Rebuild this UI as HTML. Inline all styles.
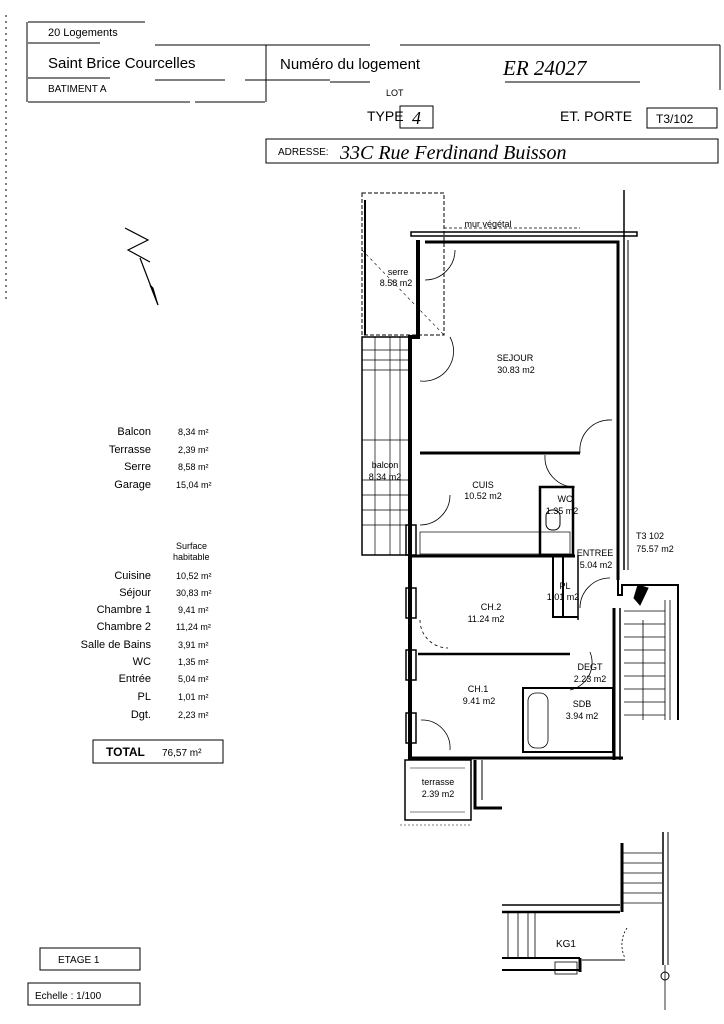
<!DOCTYPE html>
<html><head><meta charset="utf-8"><style>
html,body{margin:0;padding:0;background:#fff;}
svg{display:block;}
text{font-family:"Liberation Sans",sans-serif;fill:#000;}
.h{font-family:"Liberation Serif",serif;font-style:italic;}
</style></head><body>
<svg width="724" height="1024" viewBox="0 0 724 1024" xmlns="http://www.w3.org/2000/svg">
<g stroke="#000" fill="none">
<!-- header lines -->
<line x1="6" y1="15" x2="6" y2="300" stroke-dasharray="2,4" stroke-width="1"/>
<line x1="28" y1="22" x2="145" y2="22" stroke-width="1"/>
<line x1="27" y1="22" x2="27" y2="102" stroke-width="1"/>
<line x1="28" y1="43" x2="100" y2="43" stroke-width="1"/>
<line x1="155" y1="45" x2="370" y2="45" stroke-width="1"/>
<line x1="400" y1="45" x2="720" y2="45" stroke-width="1"/>
<line x1="28" y1="78" x2="110" y2="78" stroke-width="1"/>
<line x1="28" y1="102" x2="190" y2="102" stroke-width="1"/>
<line x1="195" y1="102" x2="265" y2="102" stroke-width="1"/>
<line x1="266" y1="45" x2="266" y2="102" stroke-width="1"/>
<line x1="155" y1="80" x2="225" y2="80" stroke-width="1"/>
<line x1="245" y1="80" x2="330" y2="80" stroke-width="1"/>
<line x1="330" y1="82" x2="370" y2="82" stroke-width="1"/>
<line x1="505" y1="82" x2="640" y2="82" stroke-width="1"/>
<line x1="670" y1="45" x2="720" y2="45" stroke-width="1"/>
<line x1="720" y1="45" x2="720" y2="90" stroke-width="1"/>
<rect x="400" y="106" width="33" height="22" stroke-width="1"/>
<rect x="647" y="108" width="70" height="20" stroke-width="1"/>
<rect x="266" y="139" width="452" height="24" stroke-width="1"/>
<!-- north arrow -->
<path d="M125 228 L148 240 L128 250 L150 262 M140 258 L158 305" stroke-width="1.2"/>
<path d="M150 285 L158 305 L153 288 Z" fill="#000"/>
<!-- table total box -->
<rect x="93" y="740" width="130" height="23" stroke-width="1"/>
<rect x="40" y="948" width="100" height="22" stroke-width="1"/>
<rect x="28" y="983" width="112" height="22" stroke-width="1"/>
<!-- plan: serre -->
<rect x="362" y="193" width="82" height="142" stroke-width="1" stroke-dasharray="4,2"/>
<line x1="365" y1="200" x2="365" y2="335" stroke-width="2"/>
<line x1="362" y1="250" x2="444" y2="335" stroke-width="0.6" stroke-dasharray="3,3"/>
<!-- mur vegetal -->
<rect x="411" y="232" width="226" height="4" stroke-width="1.5"/>
<line x1="444" y1="228" x2="580" y2="228" stroke-width="0.7" stroke-dasharray="3,2"/>
<!-- sejour -->
<path d="M418 240 L418 337 L410 337 L410 760" stroke-width="4"/>
<path d="M425 242 L618 242 L618 580" stroke-width="3"/>
<line x1="624" y1="190" x2="624" y2="570" stroke-width="1.5"/>
<line x1="628" y1="240" x2="628" y2="570" stroke-width="1"/>
<line x1="420" y1="453" x2="580" y2="453" stroke-width="3"/>
<path d="M455 250 A30 30 0 0 1 425 280" stroke-width="0.8"/>
<path d="M450 337 A30 30 0 0 1 420 381" stroke-width="0.8"/>
<path d="M580 453 A30 30 0 0 1 612 420" stroke-width="0.8"/>
<path d="M545 455 A30 30 0 0 0 575 487" stroke-width="0.8"/>
<!-- balcon -->
<rect x="362" y="337" width="48" height="218" stroke-width="1.5"/>
<g stroke-width="0.7">
<line x1="362" y1="350" x2="410" y2="350"/><line x1="362" y1="360" x2="410" y2="360"/>
<line x1="362" y1="370" x2="410" y2="370"/><line x1="362" y1="440" x2="410" y2="440"/>
<line x1="362" y1="480" x2="410" y2="480"/><line x1="362" y1="495" x2="410" y2="495"/>
<line x1="362" y1="510" x2="410" y2="510"/><line x1="362" y1="525" x2="410" y2="525"/>
<line x1="375" y1="337" x2="375" y2="555"/><line x1="390" y1="337" x2="390" y2="555"/>
<line x1="400" y1="337" x2="400" y2="555"/>
</g>
<rect x="406" y="525" width="10" height="30" stroke-width="1.5"/>
<path d="M450 495 A30 30 0 0 1 420 525" stroke-width="0.8"/>
<!-- kitchen -->
<line x1="410" y1="556" x2="575" y2="556" stroke-width="3"/>
<rect x="420" y="532" width="150" height="22" stroke-width="0.7"/>
<rect x="540" y="487" width="33" height="68" stroke-width="2.5"/>
<rect x="546" y="510" width="14" height="20" rx="6" stroke-width="1"/>
<!-- entree / PL -->
<rect x="553" y="555" width="10" height="62" stroke-width="2"/>
<line x1="553" y1="617" x2="578" y2="617" stroke-width="2"/>
<line x1="578" y1="555" x2="578" y2="620" stroke-width="1.5"/>
<path d="M610 578 A30 30 0 0 0 580 608" stroke-width="0.8"/>
<path d="M618 578 L618 595 L622 595 L622 585 L678 585 L678 720" stroke-width="2"/>
<path d="M638 585 L648 588 L640 605 L634 598 Z" fill="#000"/>
<!-- stairs right -->
<g stroke-width="0.8">
<line x1="624" y1="611" x2="665" y2="611"/><line x1="624" y1="624" x2="665" y2="624"/>
<line x1="624" y1="637" x2="665" y2="637"/><line x1="624" y1="650" x2="665" y2="650"/>
<line x1="624" y1="663" x2="665" y2="663"/><line x1="624" y1="676" x2="665" y2="676"/>
<line x1="624" y1="689" x2="665" y2="689"/><line x1="624" y1="702" x2="665" y2="702"/>
<line x1="624" y1="715" x2="665" y2="715"/><line x1="643" y1="620" x2="643" y2="720"/>
<line x1="665" y1="600" x2="665" y2="720"/><line x1="670" y1="600" x2="670" y2="720"/>
</g>
<!-- ch2/ch1 -->
<line x1="614" y1="608" x2="614" y2="760" stroke-width="3"/>
<line x1="620" y1="608" x2="620" y2="760" stroke-width="1.5"/>
<line x1="418" y1="654" x2="570" y2="654" stroke-width="2.5"/>
<rect x="406" y="588" width="10" height="30" stroke-width="1.5"/>
<rect x="406" y="650" width="10" height="30" stroke-width="1.5"/>
<rect x="406" y="713" width="10" height="30" stroke-width="1.5"/>
<path d="M420 620 A28 28 0 0 0 448 648" stroke-width="0.8" stroke-dasharray="3,3"/>
<path d="M590 652 A28 28 0 0 1 570 690" stroke-width="0.8"/>
<path d="M421 720 A28 28 0 0 1 450 750" stroke-width="0.8"/>
<!-- SDB -->
<rect x="523" y="688" width="90" height="64" stroke-width="2"/>
<rect x="528" y="693" width="20" height="55" rx="8" stroke-width="0.8"/>
<!-- bottom walls -->
<path d="M410 758 L623 758" stroke-width="3"/>
<path d="M475 760 L475 808 L502 808" stroke-width="3"/>
<path d="M482 760 L482 800" stroke-width="1"/>
<rect x="405" y="760" width="66" height="60" stroke-width="1.5"/>
<line x1="410" y1="768" x2="465" y2="768" stroke-width="0.6"/>
<line x1="410" y1="812" x2="465" y2="812" stroke-width="0.6"/>
<line x1="400" y1="825" x2="470" y2="825" stroke-width="0.6" stroke-dasharray="2,2"/>
<!-- bottom right -->
<line x1="502" y1="905" x2="620" y2="905" stroke-width="1.5"/>
<line x1="502" y1="912" x2="620" y2="912" stroke-width="2.5"/>
<line x1="622" y1="843" x2="622" y2="912" stroke-width="3"/>
<g stroke-width="0.8">
<line x1="622" y1="853" x2="662" y2="853"/><line x1="622" y1="863" x2="662" y2="863"/>
<line x1="622" y1="873" x2="662" y2="873"/><line x1="622" y1="883" x2="662" y2="883"/>
<line x1="622" y1="893" x2="662" y2="893"/><line x1="622" y1="903" x2="662" y2="903"/>
<line x1="508" y1="912" x2="508" y2="958"/><line x1="518" y1="912" x2="518" y2="958"/>
<line x1="528" y1="912" x2="528" y2="958"/><line x1="535" y1="912" x2="535" y2="958"/>
</g>
<line x1="663" y1="832" x2="663" y2="965" stroke-width="1.5"/>
<line x1="668" y1="832" x2="668" y2="965" stroke-width="1"/>
<line x1="665" y1="965" x2="665" y2="1010" stroke-width="0.8"/>
<circle cx="665" cy="976" r="4" stroke-width="1"/>
<line x1="502" y1="958" x2="580" y2="958" stroke-width="2"/>
<line x1="502" y1="970" x2="580" y2="970" stroke-width="2"/>
<line x1="580" y1="958" x2="580" y2="972" stroke-width="3"/>
<line x1="582" y1="960" x2="625" y2="960" stroke-width="1"/>
<path d="M627 928 A30 30 0 0 0 625 958" stroke-width="0.8" stroke-dasharray="2,2"/>
<rect x="555" y="962" width="22" height="12" stroke-width="0.8"/>
</g>
<!-- header text -->
<text x="48" y="36" font-size="11">20 Logements</text>
<text x="48" y="68" font-size="15">Saint Brice Courcelles</text>
<text x="48" y="92" font-size="10">BATIMENT A</text>
<text x="280" y="69" font-size="15">Numéro du logement</text>
<text x="503" y="75" font-size="21" class="h">ER 24027</text>
<text x="386" y="96" font-size="9">LOT</text>
<text x="367" y="121" font-size="14">TYPE</text>
<text x="412" y="124" font-size="18" class="h">4</text>
<text x="560" y="121" font-size="14">ET. PORTE</text>
<text x="656" y="123" font-size="12">T3/102</text>
<text x="278" y="155" font-size="10">ADRESSE:</text>
<text x="340" y="159" font-size="20" class="h">33C Rue Ferdinand Buisson</text>
<!-- table -->
<g font-size="11" text-anchor="end">
<text x="151" y="435">Balcon</text><text x="151" y="453">Terrasse</text>
<text x="151" y="470">Serre</text><text x="151" y="488">Garage</text>
<text x="151" y="579">Cuisine</text><text x="151" y="596">Séjour</text>
<text x="151" y="613">Chambre 1</text><text x="151" y="630">Chambre 2</text>
<text x="151" y="648">Salle de Bains</text><text x="151" y="665">WC</text>
<text x="151" y="682">Entrée</text><text x="151" y="700">PL</text>
<text x="151" y="718">Dgt.</text>
</g>
<g font-size="9">
<text x="178" y="435">8,34  m²</text><text x="178" y="453">2,39  m²</text>
<text x="178" y="470">8,58  m²</text><text x="176" y="488">15,04  m²</text>
<text x="176" y="579">10,52  m²</text><text x="176" y="596">30,83  m²</text>
<text x="178" y="613">9,41  m²</text><text x="176" y="630">11,24  m²</text>
<text x="178" y="648">3,91  m²</text><text x="178" y="665">1,35  m²</text>
<text x="178" y="682">5,04  m²</text><text x="178" y="700">1,01  m²</text>
<text x="178" y="718">2,23  m²</text>
<text x="176" y="549">Surface</text><text x="173" y="560">habitable</text>
</g>
<text x="106" y="756" font-size="12" font-weight="bold">TOTAL</text>
<text x="162" y="756" font-size="10">76,57  m²</text>
<text x="58" y="963" font-size="10">ETAGE 1</text>
<text x="35" y="999" font-size="10">Echelle : 1/100</text>
<!-- plan labels -->
<g font-size="9" text-anchor="middle">
<text x="488" y="227" font-size="9">mur végétal</text>
<text x="398" y="275">serre</text><text x="396" y="286">8.58 m2</text>
<text x="515" y="361">SEJOUR</text><text x="516" y="373">30.83 m2</text>
<text x="483" y="488">CUIS</text><text x="483" y="499">10.52 m2</text>
<text x="565" y="502">WC</text><text x="562" y="514">1.35 m2</text>
<text x="385" y="468">balcon</text><text x="385" y="480">8.34 m2</text>
<text x="595" y="556">ENTREE</text><text x="596" y="568">5.04 m2</text>
<text x="650" y="539">T3 102</text><text x="655" y="552">75.57 m2</text>
<text x="565" y="589">PL</text><text x="563" y="600">1.01 m2</text>
<text x="491" y="610">CH.2</text><text x="486" y="622">11.24 m2</text>
<text x="478" y="692">CH.1</text><text x="479" y="704">9.41 m2</text>
<text x="590" y="670">DEGT</text><text x="590" y="682">2.23 m2</text>
<text x="582" y="707">SDB</text><text x="582" y="719">3.94 m2</text>
<text x="438" y="785">terrasse</text><text x="438" y="797">2.39 m2</text>
<text x="566" y="947" font-size="10">KG1</text>
</g>
</svg>
</body></html>
